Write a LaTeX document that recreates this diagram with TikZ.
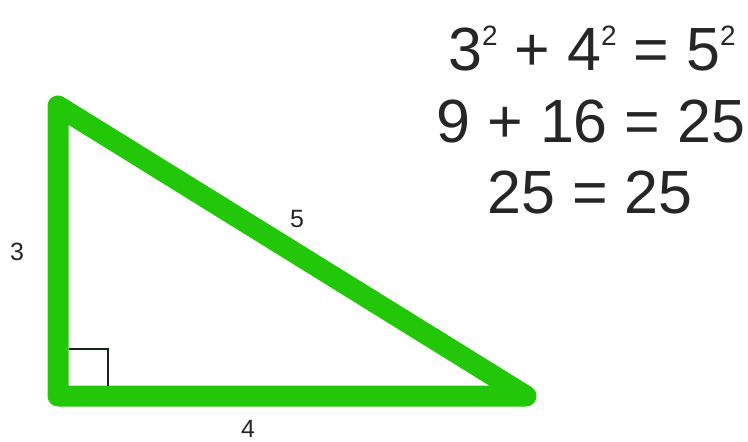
\documentclass[tikz,border=0pt]{standalone}
\usepackage{fontspec}
\setmainfont{Liberation Sans}
\usepackage{xcolor}
\usepackage{tikz}
\usetikzlibrary{positioning,calc}
\definecolor{legGreen}{RGB}{34,200,8}
\definecolor{markDark}{RGB}{18,40,18}
\newcommand{\sqtwo}{\raisebox{25pt}{\fontsize{28}{28}\selectfont 2}}

\begin{document}
\begin{tikzpicture}[x=1pt,y=-1pt,
 leg/.style={draw=legGreen,line width=21pt,line join=round,line cap=round},
 side/.style={font=\fontsize{25}{25}\selectfont,text=black!85,anchor=base,inner sep=0pt},
 eq/.style={font=\fontsize{61}{61}\selectfont,text=black!85,anchor=base,inner sep=0pt}]
\useasboundingbox (0,0) rectangle (748,442);
\coordinate (tp) at (58,106);
\coordinate (rt) at (58,396);
\coordinate (bt) at (526,396);
\draw[leg] (tp) -- (rt) -- (bt) -- cycle;
% right angle mark
\coordinate (mk) at (108,349);
\draw[markDark,line width=2.6pt] (69,349) -- (mk) -- (108,386);
% side lengths
\node[side] (a) at (17,260) {3};
\node[side] (c) at (297,227) {5};
\node[side] (b) at (248,437) {4};
% the equations
\node[eq] (l1) at (592,70) {3\sqtwo{} + 4\sqtwo{} = 5\sqtwo};
\node[eq] (l2) at (591,142) {9 + 16 = 25};
\node[eq] (l3) at (590,213) {25 = 25};
\end{tikzpicture}
\end{document}
